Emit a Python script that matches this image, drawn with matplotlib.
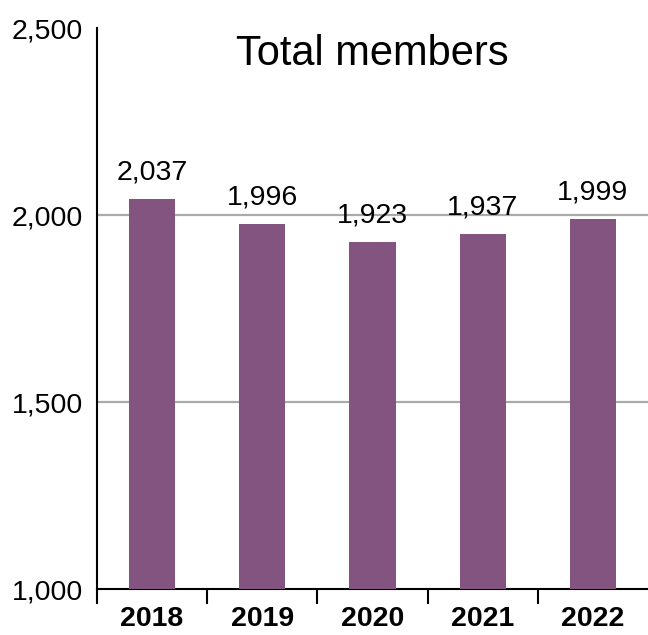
import numpy as np
import matplotlib.pyplot as plt
from matplotlib.ticker import FuncFormatter

plt.rcParams['font.family'] = ['Liberation Sans', 'DejaVu Sans']

years = ['2018', '2019', '2020', '2021', '2022']
# bar heights as drawn in the picture, labels as printed
bar_values = [2043, 1976, 1928, 1949, 1989]
label_values = [2037, 1996, 1923, 1937, 1999]
y_ticks = [1000, 1500, 2000, 2500]

purple = '#835480'

fig = plt.figure(figsize=(6.48, 6.35), dpi=100)
ax = fig.add_axes([0.1497, 0.0724, 0.8503, 0.8835])

x = np.arange(len(years))
ax.bar(x, bar_values, width=0.42, color=purple, zorder=3)

for xi, h, lab in zip(x, bar_values, label_values):
    ax.annotate(f'{lab:,}', (xi, h), xytext=(0, 10), textcoords='offset points',
                ha='center', va='bottom', fontsize=20.5)

ax.set_ylim(1000, 2500)
ax.set_xlim(-0.5, 4.5)
ax.set_yticks(y_ticks)
ax.yaxis.set_major_formatter(FuncFormatter(lambda v, p: f'{int(v):,}'))
ax.tick_params(axis='y', length=0, pad=10, labelsize=20.5)

ax.set_xticks(x)
ax.set_xticklabels(years, fontweight='bold', fontsize=20.5)
ax.set_xticks(np.arange(-0.5, 4.0, 1.0), minor=True)
ax.tick_params(axis='x', which='major', length=0, pad=12)
ax.tick_params(axis='x', which='minor', length=11, width=1.5, direction='out')

for yv in [1500, 2000]:
    ax.axhline(yv, color='#aaaaaa', lw=1.6, zorder=1)

ax.spines['top'].set_visible(False)
ax.spines['right'].set_visible(False)
ax.spines['left'].set_linewidth(1.5)
ax.spines['bottom'].set_linewidth(1.5)

ax.text(0.5, 0.99, 'Total members', transform=ax.transAxes, ha='center', va='top',
        fontsize=30)

fig.savefig('out.png', dpi=100)
